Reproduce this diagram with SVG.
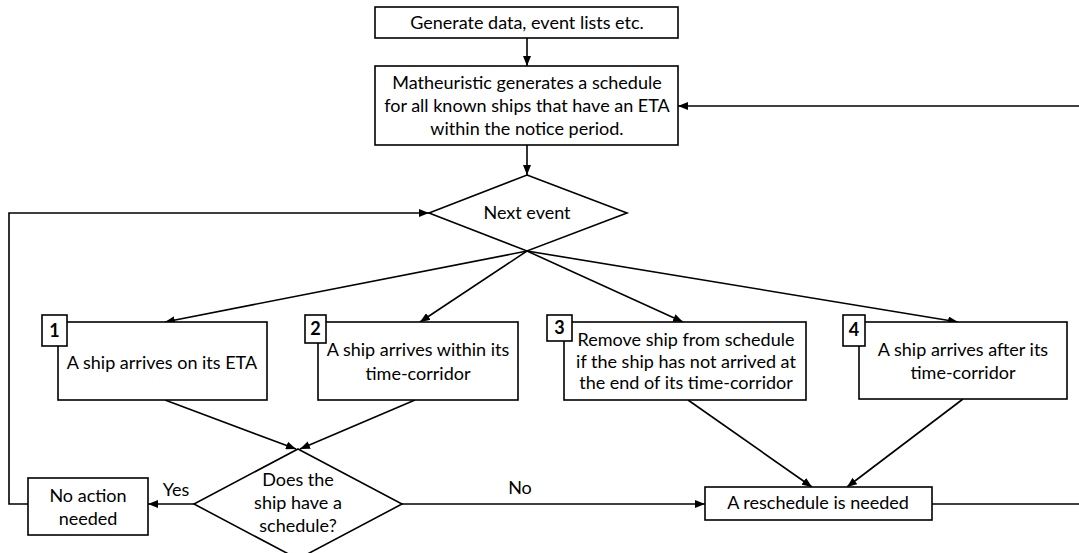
<svg xmlns="http://www.w3.org/2000/svg" width="1079" height="553" viewBox="0 0 1079 553">
<style>
.box{fill:#fff;stroke:#000;stroke-width:1.6}
.ln{fill:none;stroke:#000;stroke-width:1.6}
.arr{marker-end:url(#ah)}
text{font-family:Lato,"Liberation Sans",sans-serif;font-size:18px;fill:#000;text-anchor:middle}
.num{font-weight:bold;font-size:18px}
</style>
<defs>
<marker id="ah" viewBox="0 0 10 8" refX="10" refY="4" markerWidth="10" markerHeight="8" markerUnits="userSpaceOnUse" orient="auto">
<path d="M0,0 L10,4 L0,8 Z" fill="#000"/>
</marker>
</defs>
<rect width="1079" height="553" fill="#fff"/>
<g id="connectors">
<line class="ln arr" x1="527" y1="38" x2="527" y2="66"/>
<line class="ln arr" x1="527" y1="145" x2="527" y2="175"/>
<line class="ln arr" x1="1079" y1="106" x2="678" y2="106"/>
<polyline class="ln arr" points="28,504 9,504 9,213 429,213"/>
<line class="ln arr" x1="527" y1="251" x2="165" y2="322"/>
<line class="ln arr" x1="527" y1="251" x2="420" y2="322"/>
<line class="ln arr" x1="527" y1="251" x2="683" y2="322"/>
<line class="ln arr" x1="527" y1="251" x2="958" y2="322"/>
<line class="ln arr" x1="165" y1="400" x2="296" y2="449"/>
<line class="ln arr" x1="415" y1="400" x2="300" y2="449"/>
<line class="ln arr" x1="194" y1="504" x2="148" y2="504"/>
<line class="ln arr" x1="402" y1="504" x2="705" y2="504"/>
<line class="ln arr" x1="688" y1="400" x2="812" y2="487"/>
<line class="ln arr" x1="963" y1="399" x2="847" y2="487"/>
<line class="ln" x1="932" y1="504" x2="1079" y2="504"/>
<text x="176" y="496">Yes</text>
<text x="520" y="494">No</text>
</g>
<g id="generate">
<rect class="box" x="375" y="7" width="303" height="31"/>
<text x="527" y="29">Generate data, event lists etc.</text>
</g>
<g id="matheuristic">
<rect class="box" x="375" y="66" width="303" height="79"/>
<text x="527" y="89">Matheuristic generates a schedule</text>
<text x="527" y="112">for all known ships that have an ETA</text>
<text x="527" y="135">within the notice period.</text>
</g>
<g id="next-event">
<polygon class="box" points="527,175 627,213 527,251 429,213"/>
<text x="527" y="219">Next event</text>
</g>
<g id="event1">
<rect class="box" x="58" y="322" width="209" height="78"/>
<rect class="box" x="42" y="315" width="25" height="31"/>
<text class="num" x="54.5" y="337">1</text>
<text x="162" y="369">A ship arrives on its ETA</text>
</g>
<g id="event2">
<rect class="box" x="318" y="322" width="200" height="78"/>
<rect class="box" x="305" y="315" width="21" height="28"/>
<text class="num" x="315.5" y="335">2</text>
<text x="418" y="356">A ship arrives within its</text>
<text x="418" y="380">time-corridor</text>
</g>
<g id="event3">
<rect class="box" x="564" y="322" width="242" height="78"/>
<rect class="box" x="547" y="315" width="25" height="26"/>
<text class="num" x="559.5" y="334">3</text>
<text x="686" y="346">Remove ship from schedule</text>
<text x="686" y="368">if the ship has not arrived at</text>
<text x="686" y="389">the end of its time-corridor</text>
</g>
<g id="event4">
<rect class="box" x="859" y="322" width="208" height="77"/>
<rect class="box" x="843" y="315" width="22" height="31"/>
<text class="num" x="854" y="336">4</text>
<text x="963" y="356">A ship arrives after its</text>
<text x="963" y="379">time-corridor</text>
</g>
<g id="has-schedule">
<polygon class="box" points="298,449 402,504 298,559 194,504"/>
<text x="298" y="486">Does the</text>
<text x="298" y="509">ship have a</text>
<text x="298" y="532">schedule?</text>
</g>
<g id="no-action">
<rect class="box" x="28" y="478" width="120" height="57"/>
<text x="88" y="502">No action</text>
<text x="88" y="525">needed</text>
</g>
<g id="reschedule">
<rect class="box" x="705" y="487" width="227" height="33"/>
<text x="818" y="509">A reschedule is needed</text>
</g>
</svg>
